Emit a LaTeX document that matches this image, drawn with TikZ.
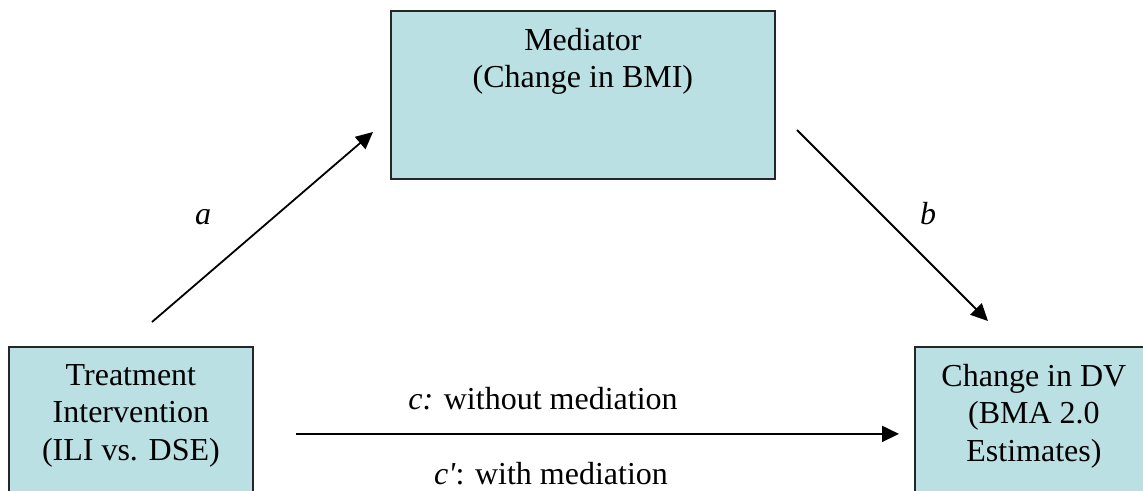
\documentclass[tikz,border=0pt]{standalone}
\usepackage{fontspec}
\setmainfont{Liberation Serif}
\usepackage{xcolor}
\usepackage{tikz}
\usetikzlibrary{positioning}
\usetikzlibrary{arrows.meta}
\definecolor{boxfill}{RGB}{187,224,227}
\tikzstyle{box}=[rectangle,draw=black!85,line width=1.8pt,fill=boxfill,anchor=north west,inner sep=0pt]
\tikzstyle{boxtext}=[align=center,inner sep=0pt,font=\fontsize{32}{37.5}\selectfont]
\tikzstyle{edge} = [draw,line width=1.8pt,-{Triangle[length=17pt,width=16pt]}]
\tikzstyle{weight} = [anchor=base,inner sep=0pt,font=\fontsize{32}{37.5}\selectfont]

\begin{document}
\begin{tikzpicture}[x=1pt,y=-1pt]
    \clip (0,0) rectangle (1143,490);
    % First we draw the boxes
    \foreach \pos/\name/\w/\h/\label in {{(8,346)/treat/244/174/{Treatment\\Intervention\\(ILI vs. DSE)}},
    {(390,10)/med/384/168/{Mediator\\(Change in BMI)}},
    {(914,346)/dv/238/174/{Change in DV\\(BMA 2.0\\Estimates)}}}
    {
        \node[box,minimum width=\w pt,minimum height=\h pt] (\name) at \pos {};
        \node[boxtext,below=18pt of \name.north] (\name-text) {\label};
    }

    % Free ends of the slanted paths
    \coordinate (a-start) at (152,322);
    \coordinate (a-end) at (373,132);
    \coordinate (b-start) at (797,130);
    \coordinate (b-end) at (988,321);

    % Connect boxes with edges and draw weights
    \path[edge] (a-start) -- (a-end);
    \path[edge] (b-start) -- (b-end);
    \path[edge,shorten <=42pt,shorten >=15pt] (treat.east) -- (dv.west);
    \node[weight] (a) at (203,224) {\textit{a}};
    \node[weight] (b) at (928,224) {\textit{b}};
    \node[weight] (c) at (543,409) {\textit{c:} without mediation};
    \node[weight] (cprime) at (551,484) {\textit{c\textquotesingle}: with mediation};
\end{tikzpicture}
\end{document}
